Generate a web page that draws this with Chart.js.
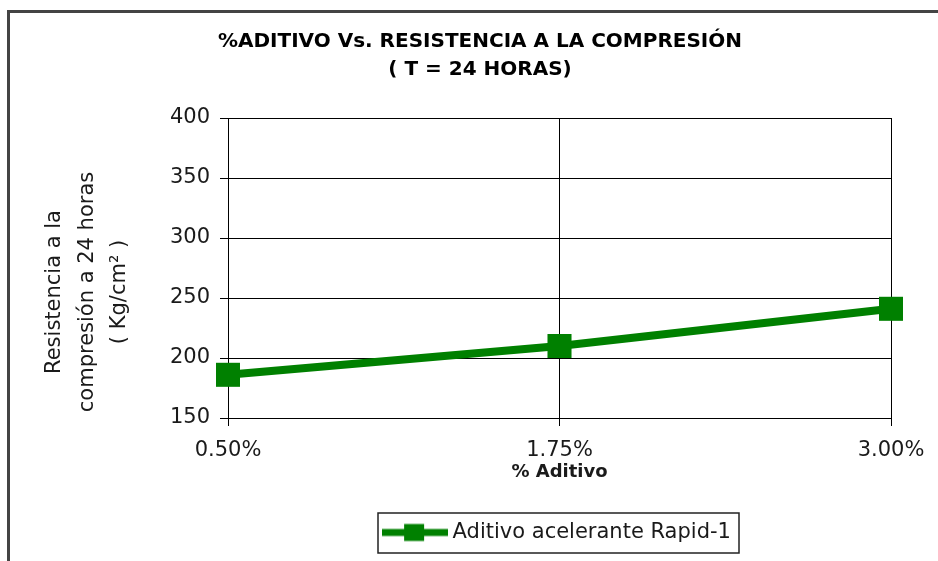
<!DOCTYPE html>
<html>
<head>
<meta charset="utf-8">
<script src="https://cdn.jsdelivr.net/npm/chart.js@4/dist/chart.umd.min.js"></script>
<style>
  html, body { margin: 0; padding: 0; background: #fff; overflow: hidden; }
  #frame { position: absolute; left: 7px; top: 10px; width: 2000px; height: 2000px;
           border-left: 3px solid #444; border-top: 3px solid #444; box-sizing: border-box; }
  #c { position: absolute; left: 0; top: 0; }
</style>
</head>
<body>
<div id="frame"></div>
<canvas id="c" width="938" height="561"></canvas>
<script>
// ---- data ----
const categories = ['0.50%', '1.75%', '3.00%'];
const resistencia = [186, 210, 241];
const seriesName = 'Aditivo acelerante Rapid-1';
const titleLines = ['%ADITIVO Vs. RESISTENCIA A LA COMPRESIÓN', '( T = 24 HORAS)'];
const yTitleLines = ['Resistencia a la', 'compresión a 24 horas', '( Kg/cm² )'];
const xTitle = '% Aditivo';
const yMin = 150, yMax = 400, yStep = 50;

const FONT = 'DejaVu Sans';
const GREEN = '#008000';
const TEXT = '#1a1a1a';

// legend marker (line with square) as a point style image
const marker = document.createElement('canvas');
marker.width = 66; marker.height = 20;
(function () {
  const m = marker.getContext('2d');
  m.fillStyle = GREEN;
  m.fillRect(0, 6.5, 66, 7);
  m.fillRect(22, 1.5, 20, 17);
})();

const textPlugin = {
  id: 'texts',
  afterDraw(chart) {
    const ctx = chart.ctx;
    ctx.save();
    // main title
    ctx.fillStyle = '#000';
    ctx.font = 'bold 20px "' + FONT + '"';
    ctx.textAlign = 'center';
    ctx.textBaseline = 'middle';
    ctx.fillText(titleLines[0], 480, 42);
    ctx.fillText(titleLines[1], 480, 70);
    // y axis title (rotated)
    ctx.fillStyle = TEXT;
    ctx.font = '21px "' + FONT + '"';
    ctx.translate(0, 292);
    ctx.rotate(-Math.PI / 2);
    const xs = [55, 87.5, 120];
    yTitleLines.forEach((t, i) => ctx.fillText(t, 0, xs[i]));
    ctx.restore();
    // legend border
    const lg = chart.legend;
    if (lg && lg.legendHitBoxes && lg.legendHitBoxes.length) {
      const hb = lg.legendHitBoxes[0];
      const cy = hb.top + hb.height / 2;
      ctx.save();
      ctx.strokeStyle = '#222';
      ctx.lineWidth = 1.5;
      ctx.strokeRect(Math.round(hb.left - 10), Math.round(cy - 20), Math.round(hb.width + 18), 40);
      ctx.restore();
    }
  }
};

new Chart(document.getElementById('c'), {
  type: 'line',
  data: {
    labels: categories,
    datasets: [{
      label: seriesName,
      data: resistencia,
      borderColor: GREEN,
      backgroundColor: GREEN,
      borderWidth: 8,
      pointStyle: 'rect',
      pointRadius: 17,
      pointHoverRadius: 17,
      pointBorderWidth: 0,
      pointBackgroundColor: GREEN,
      tension: 0,
      clip: false
    }]
  },
  options: {
    responsive: false,
    animation: false,
    events: [],
    layout: { padding: { left: 0, right: 47, top: 118, bottom: 8 } },
    plugins: {
      title: { display: false },
      tooltip: { enabled: false },
      legend: {
        display: true,
        position: 'bottom',
        fullSize: false,
        labels: {
          usePointStyle: true,
          pointStyleWidth: 54,
          padding: 8,
          color: TEXT,
          font: { family: FONT, size: 21 },
          generateLabels(chart) {
            const items = Chart.defaults.plugins.legend.labels.generateLabels(chart);
            items.forEach(it => { it.pointStyle = marker; });
            return items;
          }
        }
      }
    },
    scales: {
      x: {
        type: 'category',
        offset: false,
        afterFit(scale) { scale.height = 96; },
        grid: { display: true, color: '#000', lineWidth: 1, tickLength: 8, tickColor: '#000', drawOnChartArea: true },
        border: { display: true, color: '#000', width: 1 },
        ticks: { color: TEXT, font: { family: FONT, size: 21 }, padding: 12, maxRotation: 0 },
        title: { display: true, text: xTitle, color: TEXT, font: { family: FONT, size: 18, weight: 'bold' }, padding: { top: 0, bottom: 31 } }
      },
      y: {
        type: 'linear',
        min: yMin, max: yMax,
        afterFit(scale) { scale.width = 228; },
        grid: { display: true, color: '#000', lineWidth: 1, tickLength: 8, tickColor: '#000' },
        border: { display: true, color: '#000', width: 1 },
        ticks: { stepSize: yStep, color: TEXT, font: { family: FONT, size: 21 }, padding: 10 },
        title: { display: false }
      }
    }
  },
  plugins: [textPlugin]
});
</script>
</body>
</html>
